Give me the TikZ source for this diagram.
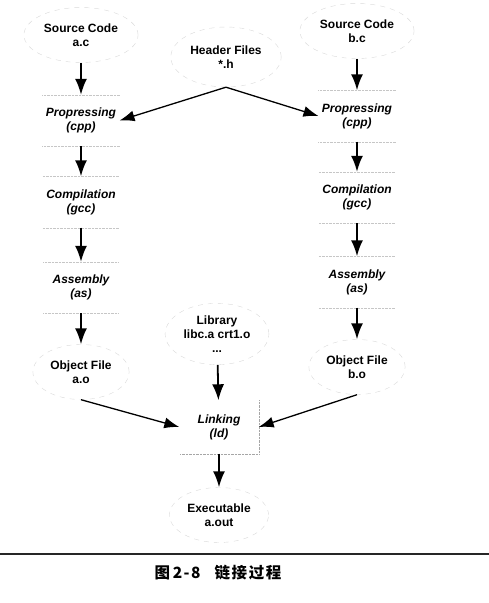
\documentclass[tikz,border=0pt]{standalone}
\usepackage{fontspec}
\setmainfont{Liberation Sans}
\newfontfamily\cjk[LetterSpace=10]{Noto Sans CJK SC}
\usepackage{tikz}
\usetikzlibrary{arrows.meta,shapes.geometric}

\begin{document}
\begin{tikzpicture}[x=1pt,y=-1pt,
    file/.style={ellipse,draw=gray!30,dash pattern=on 5pt off 5pt,thin,align=center,
      font=\fontsize{12}{14}\selectfont\bfseries,minimum width=88,minimum height=55},
    rim/.style={draw=gray!45,densely dotted,thin},
    stage/.style={rectangle,align=center,font=\fontsize{12}{14}\selectfont\bfseries\itshape,
      minimum width=76,minimum height=51,
      append after command={
        (\tikzlastnode.north west) edge[rim] (\tikzlastnode.north east)
        (\tikzlastnode.south west) edge[rim] (\tikzlastnode.south east)}},
    flow/.style={line width=1.8pt,-{Latex[length=16pt,width=12pt]}},
    feed/.style={line width=1.3pt,-{Latex[length=15pt,width=11pt]}}]
  \useasboundingbox (0,0) rectangle (489,603);
  % files
  \node[file](srcA)at(81,35){Source Code\\a.c};
  \node[file](srcB)at(357,31){Source Code\\b.c};
  \node[file,minimum width=98,minimum height=60](hdr)at(226,57){Header Files\\*.h};
  \node[file,minimum width=95](lib)at(217,334){Library\\libc.a crt1.o\\...};
  \node[file,minimum width=84](objA)at(81,372){Object File\\a.o};
  \node[file](objB)at(357,367){Object File\\b.o};
  \node[file](exe)at(219,515){Executable\\a.out};
  % stages
  \node[stage,minimum width=75](preA)at(81,120.5){Propressing\\(cpp)};
  \node[stage,minimum width=75](comA)at(81,202){Compilation\\(gcc)};
  \node[stage,minimum width=75](asmA)at(81,287.5){Assembly\\(as)};
  \node[stage](preB)at(357,116){Propressing\\(cpp)};
  \node[stage](comB)at(357,197.5){Compilation\\(gcc)};
  \node[stage](asmB)at(357,282){Assembly\\(as)};
  \node[rectangle,align=center,font=\fontsize{12}{14}\selectfont\bfseries\itshape,
    minimum width=79,minimum height=53](lnk)at(219,427){Linking\\(ld)};
  \draw[rim,draw=gray!70] (lnk.north east) -- (lnk.south east) -- (lnk.south west);
  % arrows
  \draw[flow] (srcA) -- (preA);
  \draw[flow] (preA) -- (comA);
  \draw[flow] (comA) -- (asmA);
  \draw[flow] (asmA) -- (objA);
  \draw[flow] (srcB) -- (preB);
  \draw[flow] (preB) -- (comB);
  \draw[flow] (comB) -- (asmB);
  \draw[flow] (asmB) -- (objB);
  \draw[feed] (hdr.south) -- (preA.east);
  \draw[feed] (hdr.south) -- (preB.west);
  \draw[feed] (objA.south) -- (lnk.west);
  \draw[feed] (objB.south) -- (lnk.east);
  \draw[flow] (lib) -- (lnk);
  \draw[flow] (lnk) -- (exe);
  % caption
  \draw[line width=1.4pt,black!85] (0,554) -- (489,554);
  \node[font=\cjk\bfseries\fontsize{15.5}{18}\selectfont](cap)at(218,573){图\,2-8\hspace{14pt}链接过程};
\end{tikzpicture}
\end{document}
